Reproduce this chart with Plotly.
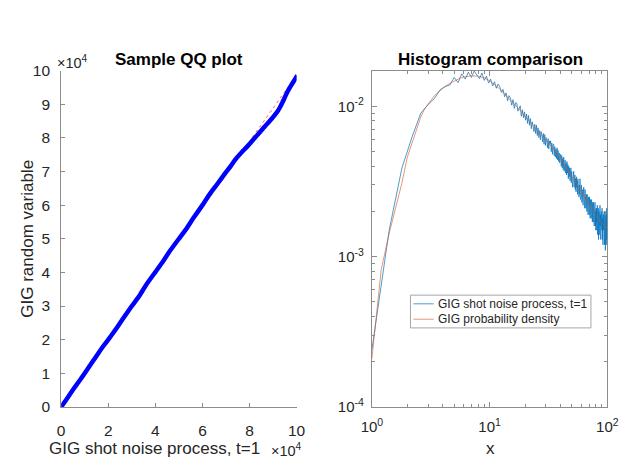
import numpy as np
import plotly.graph_objects as go

# ---------------- Sample QQ plot ----------------
qq_x = [0, 2000, 5000, 8000, 10000, 13000, 16000, 18000, 20000, 23000, 26000,
        30000, 33000, 36000, 40000, 43000, 46000, 50000, 53000, 56000, 60000,
        63000, 66000, 70000, 72000, 74000, 76000, 78000, 80000, 82000, 84000,
        86000, 88000, 90000, 92000, 93000, 94000, 96000, 98000, 100300]
qq_y = [0, 2000, 5100, 8000, 10000, 13100, 16200, 18200, 20000, 22900, 26000,
        30000, 32800, 36200, 40100, 43000, 46200, 50000, 52800, 56000, 60000,
        63200, 66000, 69800, 71600, 73600, 75200, 76700, 78200, 79800, 81400,
        83000, 84600, 86200, 88000, 89200, 90600, 93600, 96000, 98600]
ref_x = [0, 100000]
ref_y = [200, 98700]
qq_xticks = [0, 20000, 40000, 60000, 80000, 100000]
qq_yticks = [0, 10000, 20000, 30000, 40000, 50000, 60000, 70000, 80000, 90000, 100000]

# ---------------- Histogram comparison ----------------
BIN_START = 1.0
BIN_WIDTH = 0.4
# empirical density of the shot-noise samples, in units of 1e-3
hist_density_e3 = [
    0.24, 1.49, 3.9, 6.3, 9.0, 10.3, 11.3, 12.9, 13.6, 13.9,
    15.6, 14.4, 16.5, 15.2, 16.9, 15.6, 17.2, 16.1, 15.3, 16.7,
    14.9, 15.9, 14.3, 15.2, 13.7, 14.6, 13.2, 14.1, 13.5, 12.4,
    13.0, 11.6, 12.3, 10.9, 11.8, 11.4, 10.2, 11.1, 9.7, 10.6,
    10.5, 9.3, 9.9, 10.1, 8.6, 9.5, 8.4, 9.2, 8.1, 8.9,
    7.7, 8.7, 7.5, 8.3, 7.1, 7.9, 7.4, 6.8, 7.6, 6.6,
    7.5, 6.4, 7.2, 6.2, 6.9, 6.0, 6.8, 6.5, 5.8, 6.6,
    5.6, 6.5, 5.5, 6.2, 6.0, 5.3, 6.1, 5.2, 5.9, 5.6,
    5.9, 5.0, 5.7, 4.8, 5.5, 5.6, 4.7, 5.4, 4.6, 5.2,
    4.5, 5.3, 4.4, 5.1, 4.3, 4.9, 4.2, 4.7, 4.8, 4.0,
    4.7, 3.9, 4.5, 3.8, 4.6, 3.7, 4.3, 4.4, 3.6, 4.2,
    3.5, 4.3, 3.6, 4.1, 3.3, 4.0, 3.4, 3.9, 3.2, 3.8,
    3.9, 3.1, 3.7, 3.3, 2.9, 3.6, 3.0, 3.7, 2.9, 3.4,
    3.5, 2.8, 3.3, 2.7, 3.4, 2.9, 3.2, 2.6, 3.3, 2.8,
    3.2, 2.5, 3.0, 2.6, 3.3, 2.4, 2.9, 2.5, 3.0, 2.3,
    2.9, 2.4, 2.8, 2.2, 2.7, 2.9, 2.3, 2.6, 2.1, 2.8,
    2.2, 2.7, 2.1, 2.6, 2.4, 2.0, 2.6, 2.2, 2.5, 1.9,
    2.5, 2.0, 2.4, 1.9, 2.5, 2.1, 1.8, 2.4, 2.0, 2.3,
    1.8, 2.4, 1.9, 2.3, 1.7, 2.3, 2.0, 1.7, 2.3, 1.8,
    2.2, 1.6, 2.1, 1.8, 2.3, 1.6, 2.0, 1.5, 2.1, 1.7,
    2.1, 1.5, 1.9, 2.2, 1.4, 1.9, 1.6, 2.1, 1.3, 1.8,
    2.0, 1.4, 1.8, 1.5, 2.2, 1.6, 1.9, 1.3, 1.8, 2.0,
    1.4, 1.9, 1.5, 2.1, 1.3, 1.8, 1.6, 1.2, 1.9, 1.5,
    1.9, 1.3, 1.7, 2.0, 1.2, 1.8, 1.4, 2.0, 1.1, 1.7,
    1.5, 1.9, 1.2, 1.7, 2.1, 1.3, 1.8, 1.5, 1.6,
]
# GIG probability density, in units of 1e-3
pdf_x = [1.0, 1.2, 1.4, 1.6, 1.8, 2.0, 2.2, 2.4, 2.6, 2.8, 3.0, 3.2, 3.4, 3.6,
         3.8, 4.0, 4.5, 5.0, 5.5, 6.0, 7.0, 8.0, 9.0, 10, 11, 12, 13, 14, 15,
         16, 18, 20, 22, 25, 28, 31, 35, 40, 45, 50, 55, 60, 65, 70, 75, 80,
         85, 90, 95, 100]
pdf_e3 = [0.21, 0.82, 1.42, 2.15, 3.1, 4.6, 5.7, 6.9, 8.5, 9.6, 10.4, 11.0,
          11.8, 12.3, 12.8, 13.2, 14.1, 14.8, 15.3, 15.7, 16.0, 15.9, 15.5,
          14.8, 14.0, 13.2, 12.4, 11.7, 11.1, 10.5, 9.5, 8.6, 7.9, 7.0, 6.3,
          5.8, 5.2, 4.5, 3.9, 3.45, 3.05, 2.72, 2.45, 2.22, 2.03, 1.88, 1.76,
          1.66, 1.60, 1.55]
legend_names = ["GIG shot noise process, t=1", "GIG probability density"]

hist_x = BIN_START + BIN_WIDTH * np.arange(len(hist_density_e3))
hist_y = np.array(hist_density_e3) * 1e-3
pdf_y = np.array(pdf_e3) * 1e-3

FONT = "Liberation Sans, Arial, Helvetica, sans-serif"
TXT = "#262626"
AX = "#8c8c8c"
W, H = 628, 465
BLUE_LINE = "rgba(0,114,189,0.7)"
ORANGE_LINE = "rgba(217,83,25,0.6)"

fig = go.Figure()

fig.add_trace(go.Scatter(x=ref_x, y=ref_y, mode="lines", xaxis="x", yaxis="y",
                         line=dict(color="rgba(255,0,0,0.6)", width=1, dash="dot"),
                         showlegend=False, hoverinfo="skip"))
fig.add_trace(go.Scatter(x=qq_x, y=qq_y, mode="lines", xaxis="x", yaxis="y",
                         line=dict(color="#0000ff", width=4.5, shape="spline",
                                   smoothing=0.4),
                         showlegend=False))

fig.add_trace(go.Scatter(x=hist_x, y=hist_y, mode="lines", xaxis="x2", yaxis="y2",
                         name=legend_names[0], showlegend=False,
                         line=dict(color=BLUE_LINE, width=1)))
fig.add_trace(go.Scatter(x=pdf_x, y=pdf_y, mode="lines", xaxis="x2", yaxis="y2",
                         name=legend_names[1], showlegend=False,
                         line=dict(color=ORANGE_LINE, width=1)))

ydom = [1 - 413 / H, 1 - 64 / H]
qq_tickfont = dict(family=FONT, size=15.5, color=TXT)
log_tickfont = dict(family=FONT, size=15, color=TXT)
log_x_ticks = [1, 10, 100]
log_y_ticks = [1e-4, 1e-3, 1e-2]
minor_x = [m * d for d in (1, 10) for m in range(2, 10)]
minor_y = [m * d for d in (1e-4, 1e-3, 1e-2) for m in range(2, 10)]


def pow_label(v):
    return "10<sup>%d</sup>" % round(np.log10(v))


common = dict(ticks="inside", tickcolor=AX, showline=True, linecolor=AX,
              linewidth=1, showgrid=False, zeroline=False)

fig.update_layout(
    width=W, height=H,
    margin=dict(l=0, r=0, t=0, b=0),
    paper_bgcolor="white", plot_bgcolor="white",
    font=dict(family=FONT, color=TXT),
    showlegend=False,
    xaxis=dict(domain=[52 / W, 296 / W], range=[0, 100000],
               tickvals=qq_xticks, ticktext=[str(v // 10000) for v in qq_xticks],
               ticklen=4, ticklabelstandoff=9, tickfont=qq_tickfont, **common),
    yaxis=dict(domain=ydom, range=[0, 100000],
               tickvals=qq_yticks, ticktext=[str(v // 10000) for v in qq_yticks],
               ticklen=4, ticklabelstandoff=7, tickfont=qq_tickfont, **common),
    xaxis2=dict(domain=[374 / W, 618 / W], type="log", range=[0, 2], anchor="y2",
                mirror="ticks", ticklen=5, ticklabelstandoff=6,
                tickvals=log_x_ticks, ticktext=[pow_label(v) for v in log_x_ticks],
                tickfont=log_tickfont,
                minor=dict(ticks="inside", ticklen=3, tickcolor=AX, showgrid=False,
                           tickvals=minor_x),
                **common),
    yaxis2=dict(domain=ydom, type="log", range=[-4, np.log10(0.0173)], anchor="x2",
                mirror="ticks", ticklen=5, ticklabelstandoff=4,
                tickvals=log_y_ticks, ticktext=[pow_label(v) for v in log_y_ticks],
                tickfont=log_tickfont,
                minor=dict(ticks="inside", ticklen=3, tickcolor=AX, showgrid=False,
                           tickvals=minor_y),
                **common),
)

# legend box for the histogram panel
LX0, LX1, LY0, LY1 = 414, 601, 297, 331
shapes = [dict(type="rect", xref="paper", yref="paper",
               x0=LX0 / W, x1=LX1 / W, y0=1 - LY1 / H, y1=1 - LY0 / H,
               line=dict(color="#a6a6a6", width=1), fillcolor="white", layer="above")]
entry_y = [306, 322]
for ey, col in zip(entry_y, [BLUE_LINE, ORANGE_LINE]):
    shapes.append(dict(type="line", xref="paper", yref="paper",
                       x0=417 / W, x1=438 / W, y0=1 - ey / H, y1=1 - ey / H,
                       line=dict(color=col, width=1), layer="above"))
fig.update_layout(shapes=shapes)

annotations = [
    dict(text="<b>Sample QQ plot</b>", x=174 / W, y=1 - 52 / H, font=dict(size=17),
         color="black"),
    dict(text="<b>Histogram comparison</b>", x=497 / W, y=1 - 52 / H,
         font=dict(size=17), color="black"),
    dict(text="GIG random variable", x=17 / W, y=1 - 238 / H, textangle=-90,
         font=dict(size=17)),
    dict(text="GIG shot noise process, t=1", x=149 / W, y=1 - 456 / H,
         font=dict(size=17)),
    dict(text="x", x=497 / W, y=1 - 456 / H, font=dict(size=17)),
    dict(text="\u00d710<sup>4</sup>", x=46 / W, y=1 - 55 / H, xanchor="left",
         font=dict(size=14.5)),
    dict(text="\u00d710<sup>4</sup>", x=267 / W, y=1 - 458 / H, xanchor="left",
         font=dict(size=14.5)),
]
for name, ey in zip(legend_names, entry_y):
    annotations.append(dict(text=name, x=440 / W, y=1 - ey / H, xanchor="left",
                            font=dict(size=12)))

for a in annotations:
    a.setdefault("xanchor", "center")
    col = a.pop("color", TXT)
    a.update(xref="paper", yref="paper", showarrow=False, yanchor="middle")
    a["font"] = dict(family=FONT, color=col, **a["font"])
fig.update_layout(annotations=annotations)

fig.write_html("out.html")
